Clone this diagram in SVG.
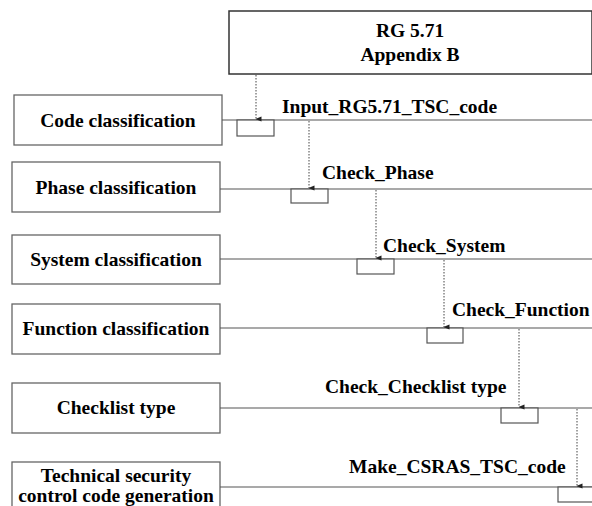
<svg xmlns="http://www.w3.org/2000/svg" width="592" height="506" viewBox="0 0 592 506">
<defs>
<style>
.box{fill:#fff;stroke:#666;stroke-width:1.3}
.main{fill:#fff;stroke:#333;stroke-width:1.5}
.t{font-family:"Liberation Serif","Times New Roman",serif;font-weight:bold;font-size:19.5px;fill:#000;text-anchor:middle}
.lab{font-family:"Liberation Serif","Times New Roman",serif;font-weight:bold;font-size:19.5px;fill:#000}
.ln{stroke:#555;stroke-width:1.2;fill:none}
.sb{fill:#fff;stroke:#555;stroke-width:1.2}
.dot{stroke:#444;stroke-width:1;stroke-dasharray:1.5 1.5;fill:none}
</style>
<marker id="ah" markerWidth="6" markerHeight="6" refX="3" refY="5.5" orient="auto" markerUnits="userSpaceOnUse" viewBox="0 0 6 6">
<path d="M0.5,0 L3,6 L5.5,0 Z" fill="#222"/>
</marker>
</defs>
<rect width="592" height="506" fill="#fff"/>

<g id="rg571">
<rect class="main" x="229" y="11" width="363" height="63"/>
<text class="t" x="410" y="37">RG 5.71</text>
<text class="t" x="410" y="61">Appendix B</text>
</g>

<g id="code">
<rect class="box" x="14" y="95" width="208" height="50"/>
<text class="t" x="118" y="127">Code classification</text>
</g>
<g id="phase">
<rect class="box" x="12" y="162" width="208" height="50"/>
<text class="t" x="116" y="194">Phase classification</text>
</g>
<g id="system">
<rect class="box" x="12" y="235" width="208" height="49"/>
<text class="t" x="116" y="266">System classification</text>
</g>
<g id="function">
<rect class="box" x="12" y="304" width="208" height="50"/>
<text class="t" x="116" y="335">Function classification</text>
</g>
<g id="checklist">
<rect class="box" x="12" y="383" width="208" height="50"/>
<text class="t" x="116" y="414">Checklist type</text>
</g>
<g id="tech">
<rect class="box" x="12" y="462" width="208" height="60"/>
<text class="t" x="116" y="482">Technical security</text>
<text class="t" x="116" y="502">control code generation</text>
</g>

<g id="connectors">
<line class="ln" x1="222" y1="120" x2="592" y2="120"/>
<line class="ln" x1="220" y1="189" x2="592" y2="189"/>
<line class="ln" x1="220" y1="259" x2="592" y2="259"/>
<line class="ln" x1="220" y1="328" x2="592" y2="328"/>
<line class="ln" x1="220" y1="408" x2="592" y2="408"/>
<line class="ln" x1="220" y1="487" x2="592" y2="487"/>

<rect class="sb" x="237" y="120" width="37" height="16"/>
<rect class="sb" x="291" y="189" width="37" height="14"/>
<rect class="sb" x="357" y="259" width="37" height="15"/>
<rect class="sb" x="427" y="328" width="36" height="15"/>
<rect class="sb" x="501" y="408" width="37" height="15"/>
<rect class="sb" x="558" y="487" width="40" height="15"/>

<line class="dot" x1="256" y1="75" x2="256" y2="119" marker-end="url(#ah)"/>
<line class="dot" x1="309" y1="121" x2="309" y2="188" marker-end="url(#ah)"/>
<line class="dot" x1="376" y1="190" x2="376" y2="258" marker-end="url(#ah)"/>
<line class="dot" x1="444" y1="260" x2="444" y2="327" marker-end="url(#ah)"/>
<line class="dot" x1="519" y1="329" x2="519" y2="407" marker-end="url(#ah)"/>
<line class="dot" x1="577" y1="409" x2="577" y2="486" marker-end="url(#ah)"/>

<text class="lab" x="282" y="113">Input_RG5.71_TSC_code</text>
<text class="lab" x="322" y="179">Check_Phase</text>
<text class="lab" x="383" y="252">Check_System</text>
<text class="lab" x="452" y="316">Check_Function</text>
<text class="lab" x="325" y="393">Check_Checklist type</text>
<text class="lab" x="349" y="473">Make_CSRAS_TSC_code</text>
</g>
</svg>
